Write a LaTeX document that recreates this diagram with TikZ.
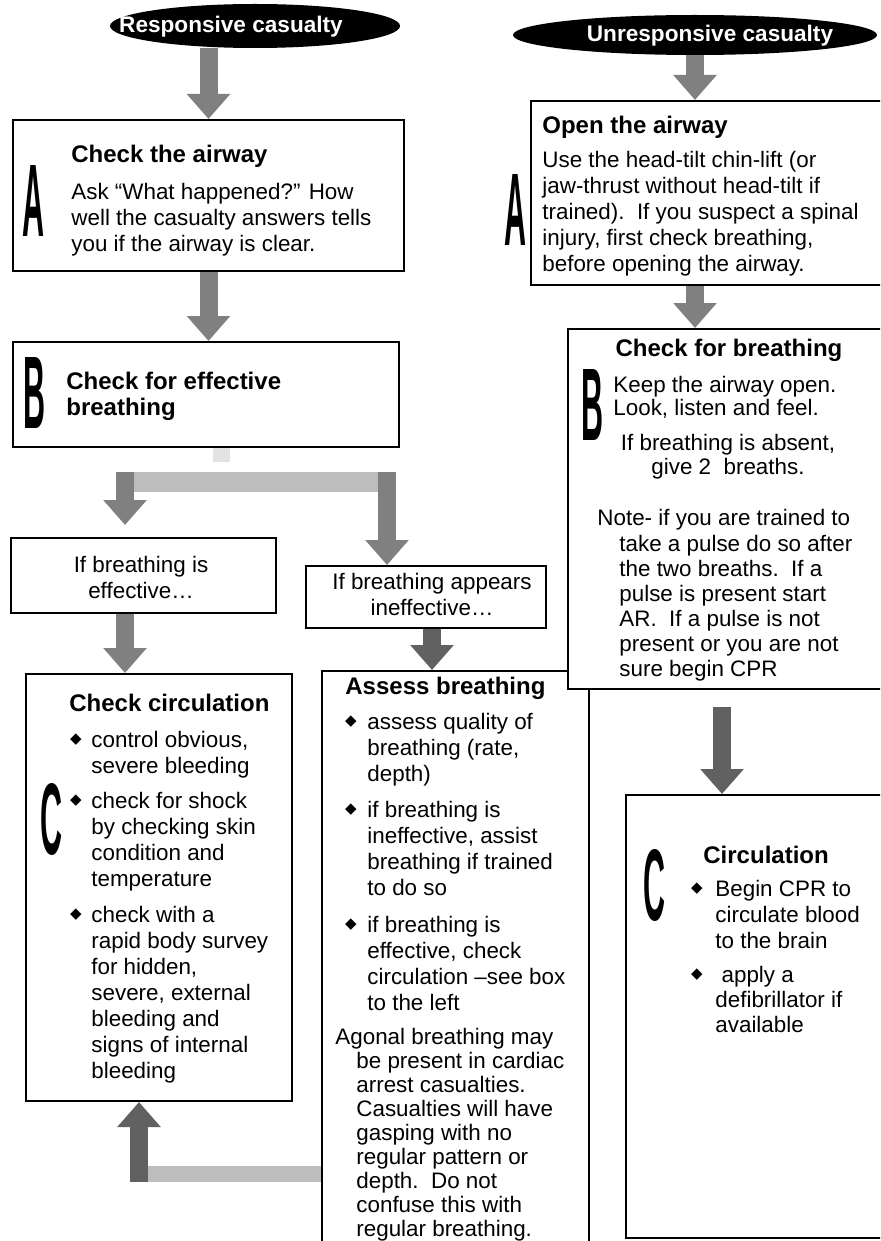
\documentclass[tikz,border=0pt]{standalone}
\usepackage{graphicx}
\usepackage{fontspec}
\setmainfont{Liberation Sans}
\newfontfamily\symbolfont{DejaVu Sans}
\usetikzlibrary{shapes.geometric,arrows.meta}

\definecolor{arrowgray}{gray}{0.5}
\definecolor{darkarrow}{gray}{0.38}
\definecolor{bargray}{gray}{0.74}

\newcommand{\bodyfont}{\fontsize{11.2pt}{13pt}\selectfont}
\newcommand{\headfont}{\fontsize{12pt}{13pt}\selectfont\bfseries}
\newcommand{\bigletter}[1]{\resizebox{11pt}{35.5pt}{\bfseries #1}}
\newcommand{\diam}{{\symbolfont\fontsize{7.5pt}{7.5pt}\selectfont ◆}}

\begin{document}
\begin{tikzpicture}[x=0.5pt,y=-0.5pt,
    box/.style={draw, line width=1pt, fill=white, inner sep=0pt, anchor=north west},
    oval/.style={ellipse, fill=black, inner sep=0pt},
    ovaltext/.style={text=white, font=\fontsize{11.3pt}{13pt}\selectfont\bfseries},
    head/.style={anchor=north west, inner sep=0pt, align=left, font=\headfont},
    txt/.style={anchor=north west, inner sep=0pt, align=left, font=\bodyfont},
    ctxt/.style={anchor=north, inner sep=0pt, align=center, font=\bodyfont},
    dot/.style={inner sep=0pt},
    letter/.style={inner sep=0pt},
    flow/.style={line width=9pt, draw=arrowgray, -{Triangle[width=21pt,length=12.5pt]}},
    bar/.style={line width=10pt, draw=bargray}]

    \useasboundingbox (0,0) rectangle (880,1241);
    \clip (0,0) rectangle (880,1241);

    % left column: responsive casualty
    \node[oval, minimum width=145pt, minimum height=22pt] (resp) at (255,26) {};
    \node[ovaltext] (resptxt) at (231,27) {Responsive casualty};

    % box A
    \node[box, minimum width=195.5pt, minimum height=75.5pt] (boxA) at (12,119) {};
    \node[letter] (letA) at (33,201) {\bigletter{A}};
    \node[head] (headA) at (71,145) {Check the airway};
    \node[txt] (txtA) at (71,183) {Ask ``What happened?'' How\\well the casualty answers tells\\you if the airway is clear.};

    % box B
    \node[box, minimum width=193pt, minimum height=52.5pt] (boxB) at (12,341) {};
    \node[letter] (letB) at (34,393) {\bigletter{B}};
    \node[head] (headB) at (66,372) {Check for effective\\breathing};

    % effective / ineffective
    \node[box, minimum width=132.5pt, minimum height=37.5pt] (eff) at (10,537) {};
    \node[ctxt] (efftxt) at (141,556) {If breathing is\\effective\ldots};
    \node[box, minimum width=120pt, minimum height=31pt] (ineff) at (305,565) {};
    \node[ctxt] (inefftxt) at (432,573) {If breathing appears\\ineffective\ldots};

    % box C
    \node[box, minimum width=133pt, minimum height=213.5pt] (circC) at (25,673) {};
    \node[letter] (letC) at (51,819) {\bigletter{C}};
    \node[head] (headC) at (69,694) {Check circulation};
    \node[dot] (dotC1) at (76,740) {\diam};
    \node[txt] (itemC1) at (91,731) {control obvious,\\severe bleeding};
    \node[dot] (dotC2) at (76,801) {\diam};
    \node[txt] (itemC2) at (91,792) {check for shock\\by checking skin\\condition and\\temperature};
    \node[dot] (dotC3) at (76,915) {\diam};
    \node[txt] (itemC3) at (91,906) {check with a\\rapid body survey\\for hidden,\\severe, external\\bleeding and\\signs of internal\\bleeding};

    % assess breathing
    \node[box, minimum width=133.5pt, minimum height=315pt] (assess) at (321,670) {};
    \node[head] (headAs) at (345,677) {Assess breathing};
    \node[dot] (dotAs1) at (351,722) {\diam};
    \node[txt] (itemAs1) at (367,713) {assess quality of\\breathing (rate,\\depth)};
    \node[dot] (dotAs2) at (351,810) {\diam};
    \node[txt] (itemAs2) at (367,801) {if breathing is\\ineffective, assist\\breathing if trained\\to do so};
    \node[dot] (dotAs3) at (351,925) {\diam};
    \node[txt] (itemAs3) at (367,916) {if breathing is\\effective, check\\circulation --see box\\to the left};
    \node[txt] (agonal) at (335,1028) {Agonal breathing may};
    \node[txt, font=\fontsize{11.2pt}{12pt}\selectfont] (agonal2) at (356,1052) {be present in cardiac\\arrest casualties.\\Casualties will have\\gasping with no\\regular pattern or\\depth.\ \ Do not\\confuse this with\\regular breathing.};

    % right column: unresponsive casualty
    \node[oval, minimum width=182pt, minimum height=20pt] (unresp) at (695,35) {};
    \node[ovaltext] (unresptxt) at (710,36) {Unresponsive casualty};

    % open the airway
    \node[box, minimum width=185pt, minimum height=92pt] (open) at (530,100) {};
    \node[letter] (letA2) at (515,210) {\bigletter{A}};
    \node[head] (headO) at (542,116) {Open the airway};
    \node[txt] (txtO) at (542,151) {Use the head-tilt chin-lift (or\\jaw-thrust without head-tilt if\\trained).\ \ If you suspect a spinal\\injury, first check breathing,\\before opening the airway.};

    % check for breathing
    \node[box, minimum width=166.5pt, minimum height=180pt] (breath) at (567,328) {};
    \node[letter] (letB2) at (592,405) {\bigletter{B}};
    \node[head, anchor=north] (headBr) at (729,339) {Check for breathing};
    \node[txt, font=\fontsize{11.2pt}{11.5pt}\selectfont] (txtBr1) at (613,376) {Keep the airway open.\\Look, listen and feel.};
    \node[ctxt, font=\fontsize{11.2pt}{12pt}\selectfont] (txtBr2) at (728,434) {If breathing is absent,\\give 2\ \ breaths.};
    \node[txt] (note) at (597,509) {Note- if you are trained to};
    \node[txt, font=\fontsize{11.2pt}{12.5pt}\selectfont] (note2) at (619,535) {take a pulse do so after\\the two breaths.\ \ If a\\pulse is present start\\AR.\ \ If a pulse is not\\present or you are not\\sure begin CPR};

    % circulation
    \node[box, minimum width=137.5pt, minimum height=221.5pt] (circR) at (625,794) {};
    \node[letter] (letC2) at (654,885) {\bigletter{C}};
    \node[head] (headCR) at (703,846) {Circulation};
    \node[dot] (dotCR1) at (697,889) {\diam};
    \node[txt] (itemCR1) at (715,880) {Begin CPR to\\circulate blood\\to the brain};
    \node[dot] (dotCR2) at (697,975) {\diam};
    \node[txt, font=\fontsize{11.2pt}{12.5pt}\selectfont] (itemCR2) at (715,966) {\ apply a\\defibrillator if\\available};

    % arrows, left
    \draw[flow] (boxA.north |- resp.south) -- (boxA.north);
    \draw[flow] (boxA.south) -- (boxA.south |- boxB.north);
    \coordinate (forkL) at (125,482);
    \coordinate (forkM) at (221,482);
    \coordinate (forkR) at (387,482);
    \draw[bar, line width=8.5pt, draw=gray!22] (boxB.south -| forkM) -- ++(0,14);
    \draw[bar] (118,482) -- (395,482);
    \draw[flow] ([yshift=5pt]forkL) -- ([yshift=6pt]eff.north -| forkL);
    \draw[flow] ([yshift=5pt]forkR) -- (ineff.north -| forkR);
    \draw[flow] (eff.south -| forkL) -- (circC.north -| forkL);
    \coordinate (ineffx) at (432,0);
    \draw[flow, draw=darkarrow] (ineff.south -| ineffx) -- (assess.north -| ineffx);
    \coordinate (back) at (139,1174);
    \draw[bar, line width=8pt] (assess.west |- back) -- (130,1174);
    \draw[flow, draw=darkarrow] ([yshift=-4pt]back) -- (circC.south -| back);

    % arrows, right
    \coordinate (rightx) at (695,0);
    \draw[flow] (unresp.south) -- (open.north -| unresp.south);
    \draw[flow] (open.south -| rightx) -- (breath.north -| rightx);
    \coordinate (circx) at (722,0);
    \draw[flow, draw=darkarrow] ([yshift=-8.5pt]breath.south -| circx) -- (circR.north -| circx);
\end{tikzpicture}
\end{document}
